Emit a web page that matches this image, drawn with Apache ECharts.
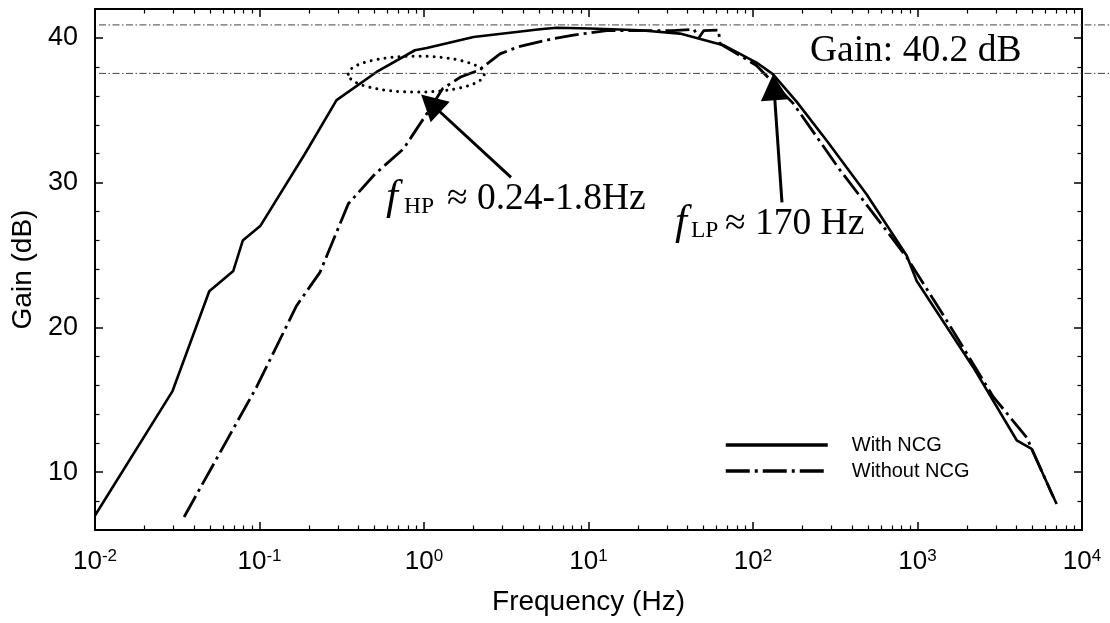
<!DOCTYPE html>
<html>
<head>
<meta charset="utf-8">
<script src="https://cdn.jsdelivr.net/npm/echarts@6/dist/echarts.min.js"></script>
<style>
  html, body { margin: 0; padding: 0; background: #fff; }
  #chart { width: 1110px; height: 623px; }
</style>
</head>
<body>
<div id="chart"></div>
<script>
// Gain response with the NCG stage (frequency in Hz, gain in dB)
const freqWithNCG = [0.01, 0.0296, 0.0495, 0.0693, 0.0791, 0.101, 0.189, 0.294, 0.515, 0.881,
  1.04, 2.0, 5.07, 6.41, 10.2, 20.6, 36.0, 66.1, 105, 132, 184, 281, 490, 859, 989, 2180,
  4010, 4940, 7010];
const gainWithNCG = [7.0, 15.6, 22.5, 23.9, 26.0, 27.0, 32.0, 35.7, 37.65, 39.15,
  39.3, 40.07, 40.6, 40.7, 40.65, 40.53, 40.3, 39.5, 38.3, 37.5, 35.6, 32.9, 29.2, 24.97, 23.2, 17.25,
  12.2, 11.6, 7.8];

// Gain response without the NCG stage
const freqWithoutNCG = [0.0348, 0.0962, 0.168, 0.233, 0.347, 0.504, 0.752, 1.04, 1.30, 1.67,
  2.15, 2.90, 3.72, 6.14, 8.09, 12.9, 32.4, 43.7, 46.8, 50.1, 61.7, 63.1, 105, 176, 339, 646,
  859, 1500, 2890, 4610, 6700];
const gainWithoutNCG = [6.9, 15.9, 21.5, 23.8, 28.55, 30.6, 32.35, 34.77, 36.5, 37.3,
  37.77, 38.9, 39.38, 39.96, 40.2, 40.5, 40.5, 40.6, 40.0, 40.5, 40.55, 39.6, 38.1, 35.46, 30.85, 26.7,
  24.85, 20.5, 15.2, 12.4, 8.26];

// Axis ticks
const xMajorTicks = [0.01, 0.1, 1, 10, 100, 1000, 10000];
const yMajorTicks = [10, 20, 30, 40];
const yMinorTicks = [8, 12, 14, 16, 18, 22, 24, 26, 28, 32, 34, 36, 38];
const xMinorTicks = [];
for (let i = 0; i < xMajorTicks.length - 1; i++) {
  for (let k = 2; k <= 9; k++) xMinorTicks.push(parseFloat((xMajorTicks[i] * k).toPrecision(3)));
}

// Horizontal reference levels (dB)
const refLevels = [40.9, 37.55];

// Annotation anchors in data coordinates [Hz, dB]
const hpArrow = { tail: [3.38, 30.37], tip: [0.96, 36.1] };
const lpArrow = { tail: [150, 28.64], tip: [132.4, 37.49] };
const hpBandCenter = [0.897, 37.5];
const gainLabelAt = [222, 38.18];
const hpLabelAt = [0.587, 27.95];
const lpLabelAt = [34.5, 26.22];

const SANS = 'Liberation Sans, Arial, sans-serif';
const SERIF = 'Liberation Serif, Times New Roman, serif';

const chart = echarts.init(document.getElementById('chart'), null, { renderer: 'canvas' });

const logBase = {
  type: 'log', logBase: 10, min: 0.01, max: 10000, gridIndex: 0,
  axisLine: { show: true, onZero: false, lineStyle: { color: '#000', width: 2 } },
  splitLine: { show: false }
};
const valBase = {
  type: 'value', min: 6, max: 42, gridIndex: 0,
  axisLine: { show: true, onZero: false, lineStyle: { color: '#000', width: 2 } },
  splitLine: { show: false }
};
const majorTick = (vals) => ({ show: true, inside: true, length: 8, customValues: vals, lineStyle: { color: '#000', width: 1.5 } });
const minorTick = (vals) => ({ show: true, inside: true, length: 4.5, customValues: vals, lineStyle: { color: '#000', width: 1.2 } });

const option = {
  animation: false,
  backgroundColor: '#fff',
  grid: { left: 95, right: 28, top: 9, bottom: 93 },
  legend: {
    orient: 'vertical',
    left: 724, top: 435, padding: 0,
    itemWidth: 102, itemHeight: 14, itemGap: 6,
    itemStyle: { color: 'rgba(0,0,0,0)', borderWidth: 0 },
    lineStyle: { width: 3.5 },
    textStyle: { fontFamily: SANS, fontSize: 20, color: '#000', lineHeight: 20, padding: [0, 0, 0, 19] },
    data: ['With NCG', 'Without NCG']
  },
  xAxis: [
    Object.assign({}, logBase, {
      position: 'bottom',
      name: 'Frequency (Hz)', nameLocation: 'middle', nameGap: 58,
      nameTextStyle: { fontFamily: SANS, fontSize: 28, color: '#000' },
      axisTick: majorTick(xMajorTicks),
      axisLabel: {
        customValues: xMajorTicks, margin: 18, color: '#000',
        formatter: (v) => '{b|10}{s|' + Math.round(Math.log10(v)) + '}',
        rich: {
          b: { fontFamily: SANS, fontSize: 26, lineHeight: 28, color: '#000' },
          s: { fontFamily: SANS, fontSize: 17, lineHeight: 17, verticalAlign: 'top', color: '#000' }
        }
      }
    }),
    Object.assign({}, logBase, { position: 'top', axisTick: majorTick(xMajorTicks), axisLabel: { show: false } }),
    Object.assign({}, logBase, { position: 'bottom', axisLine: { show: false }, axisTick: minorTick(xMinorTicks), axisLabel: { show: false } }),
    Object.assign({}, logBase, { position: 'top', axisLine: { show: false }, axisTick: minorTick(xMinorTicks), axisLabel: { show: false } })
  ],
  yAxis: [
    Object.assign({}, valBase, {
      position: 'left',
      name: 'Gain (dB)', nameLocation: 'middle', nameGap: 58, nameRotate: 90,
      nameTextStyle: { fontFamily: SANS, fontSize: 28, color: '#000' },
      axisTick: majorTick(yMajorTicks),
      axisLabel: { customValues: yMajorTicks, margin: 17, fontFamily: SANS, fontSize: 27, color: '#000' }
    }),
    Object.assign({}, valBase, { position: 'right', axisTick: majorTick(yMajorTicks), axisLabel: { show: false } }),
    Object.assign({}, valBase, { position: 'left', axisLine: { show: false }, axisTick: minorTick(yMinorTicks), axisLabel: { show: false } }),
    Object.assign({}, valBase, { position: 'right', axisLine: { show: false }, axisTick: minorTick(yMinorTicks), axisLabel: { show: false } })
  ],
  series: [
    {
      name: 'With NCG', type: 'line', xAxisIndex: 0, yAxisIndex: 0,
      showSymbol: false, symbol: 'none',
      lineStyle: { color: '#000', width: 2.6, type: 'solid' },
      itemStyle: { color: '#000' },
      data: freqWithNCG.map((f, i) => [f, gainWithNCG[i]]),
      z: 3
    },
    {
      name: 'Without NCG', type: 'line', xAxisIndex: 0, yAxisIndex: 0,
      showSymbol: false, symbol: 'none',
      lineStyle: { color: '#000', width: 2.8, type: [24, 5, 3, 5], cap: 'butt' },
      itemStyle: { color: '#000' },
      data: freqWithoutNCG.map((f, i) => [f, gainWithoutNCG[i]]),
      z: 2
    }
  ]
};

chart.setOption(option);

// Annotation layer placed through the axes' own coordinate conversion
const toPx = (p) => chart.convertToPixel({ xAxisIndex: 0, yAxisIndex: 0 }, p);

function arrow(tail, tip) {
  const a = toPx(tail), b = toPx(tip);
  const dx = b[0] - a[0], dy = b[1] - a[1];
  const L = Math.hypot(dx, dy), ux = dx / L, uy = dy / L;
  const hl = 26, hw = 14;
  const bx = b[0] - ux * hl, by = b[1] - uy * hl;
  return [
    { type: 'line', z: 100, shape: { x1: a[0], y1: a[1], x2: bx + ux * 3, y2: by + uy * 3 },
      style: { stroke: '#000', lineWidth: 3 } },
    { type: 'polygon', z: 100, shape: { points: [[b[0], b[1]], [bx - uy * hw, by + ux * hw], [bx + uy * hw, by - ux * hw]] },
      style: { fill: '#000' } }
  ];
}

// text pieces: offset from the anchor's left/baseline point
function label(anchor, parts) {
  const p = toPx(anchor);
  return parts.map((t) => ({
    type: 'text', z: 100,
    x: p[0] + t.dx,
    y: p[1] + (t.db || 0) - 0.34 * t.size,
    style: {
      text: t.text, fill: '#000', align: 'left', verticalAlign: 'middle',
      fontFamily: SERIF, fontSize: t.size, fontStyle: t.italic ? 'italic' : 'normal'
    }
  }));
}

const graphics = [];
const W = chart.getWidth();
refLevels.forEach((lv) => {
  const p = toPx([0.01, lv]);
  graphics.push({
    type: 'line', z: 90, shape: { x1: p[0] + 4, y1: p[1], x2: W, y2: p[1] },
    style: { stroke: '#444', lineWidth: 1, lineDash: [7, 2.5, 1.5, 2.5] }
  });
});

const c = toPx(hpBandCenter);
graphics.push({
  type: 'ellipse', z: 100, shape: { cx: c[0], cy: c[1], rx: 68, ry: 18 },
  style: { fill: 'none', stroke: '#000', lineWidth: 3, lineDash: [0.01, 7], lineCap: 'round' }
});

graphics.push(...arrow(hpArrow.tail, hpArrow.tip));
graphics.push(...arrow(lpArrow.tail, lpArrow.tip));

graphics.push(...label(gainLabelAt, [{ text: 'Gain: 40.2 dB', dx: 0, size: 37.5 }]));
graphics.push(...label(hpLabelAt, [
  { text: 'f', dx: 0, size: 43, italic: true },
  { text: 'HP', dx: 18, db: 2, size: 23.5 },
  { text: '≈ 0.24-1.8Hz', dx: 61, size: 37.5 }
]));
graphics.push(...label(lpLabelAt, [
  { text: 'f', dx: -2, size: 43, italic: true },
  { text: 'LP', dx: 14, db: 1, size: 23.5 },
  { text: '≈ 170 Hz', dx: 48, size: 37.5 }
]));

chart.setOption({ graphic: graphics });
</script>
</body>
</html>
